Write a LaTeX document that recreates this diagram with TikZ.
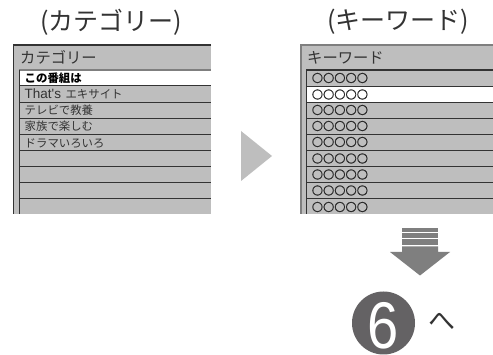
\documentclass[tikz,border=0pt]{standalone}
\usepackage{fontspec}
\setmainfont{Noto Sans CJK JP}
\newfontfamily\lat{Liberation Sans}
\newfontfamily\ringf{DejaVu Sans}[FakeBold=0.6]
\definecolor{panel}{HTML}{BEBEBE}
\definecolor{ink}{HTML}{333333}
\definecolor{mid}{HTML}{7F7F7F}
\definecolor{dk}{HTML}{646264}
\tikzset{
 title/.style={anchor=center,inner sep=0pt,font=\fontsize{25}{25}\selectfont,text=ink},
 head/.style={anchor=west,inner sep=0pt,font=\fontsize{15.3}{16}\selectfont,text=ink},
 row/.style={anchor=west,inner sep=0pt,font=\fontsize{11.4}{12}\selectfont,text=ink},
 rule/.style={draw=ink,line width=0.9pt},
 frameline/.style={draw=#1,line width=1.2pt},
}
\newcommand{\rings}{\begingroup\fontsize{13.2}{13}\selectfont\ringf\char"25CB\hspace{-0.3pt}\char"25CB\hspace{-0.3pt}\char"25CB\hspace{-0.3pt}\char"25CB\hspace{-0.3pt}\char"25CB\endgroup}
\begin{document}
\begin{tikzpicture}[x=1pt,y=-1pt]
\useasboundingbox (0,0) rectangle (493,355);
\fill[white] (0,0) rectangle (493,355);
% left panel
\node[title] (t1) at (111,22) {(カテゴリー)};
\fill[panel] (13.5,45) rectangle (211,214);
\draw[frameline=ink] (211,45) -- (13.5,45) -- (13.5,214);
\draw[frameline=mid] (19.5,214) -- (19.5,70) -- (211,70);
\fill[white] (20,71) rectangle (211,85);
\foreach \y in {85.5,102,118,134,150,166,182.5,198.5}{\draw[rule] (19.5,\y) -- (211,\y);}
\draw[rule] (19.5,70) -- (19.5,214);
\node[head] (h1) at (20,57.5) {カテゴリー};
\node[row,font=\fontsize{11.4}{12}\selectfont\bfseries,text=black] (r1) at (24.5,78) {この番組は};
\node[row] (r2) at (24.5,94) {{\lat\fontsize{13.5}{12}\selectfont That's}\hspace{2pt} エキサイト};
\node[row] (r3) at (24.5,110) {テレビで教養};
\node[row] (r4) at (24.5,126) {家族で楽しむ};
\node[row] (r5) at (24.5,143) {ドラマいろいろ};
% arrow
\fill[panel] (241,131) -- (272,156) -- (241,181) -- cycle;
% right panel
\node[title] (t2) at (398,22) {(キーワード)};
\fill[panel] (301,45) rectangle (493,214);
\draw[frameline=mid] (493,45) -- (301,45) -- (301,214);
\fill[white] (307,87) rectangle (493,102);
\draw[frameline=ink] (306.5,214) -- (306.5,70) -- (493,70);
\foreach \y in {86.5,102,118,134,150.5,166,182.5,198.5}{\draw[rule] (306.5,\y) -- (493,\y);}
\node[head] (h2) at (307,57.5) {キーワード};
\foreach \n/\y in {a/78,b/94.5,c/110,d/126,e/142,f/158.5,g/174.5,h/190.5,i/207}{
 \node[row,text=black!85] (k\n) at (311.5,\y) {\rings};
}
% down arrow
\fill[mid] (402,228) rectangle (438,232);
\fill[mid] (402,233.5) rectangle (438,238);
\fill[mid] (402,239.5) rectangle (438,245);
\fill[mid] (402,246.5) -- (438,246.5) -- (438,252) -- (450,252) -- (420,275.5) -- (390,252) -- (402,252) -- cycle;
% step badge
\node[circle,fill=dk,minimum size=63pt,inner sep=0pt] (disc) at (383.5,323) {};
\node[inner sep=0pt,text=white,xscale=0.85,font=\lat\fontsize{66}{66}\selectfont] (six) at (383.5,326) {6};
\node[anchor=center,inner sep=0pt,font=\fontsize{27}{27}\selectfont,text=ink] (he) at (441.5,322) {へ};
\end{tikzpicture}
\end{document}
